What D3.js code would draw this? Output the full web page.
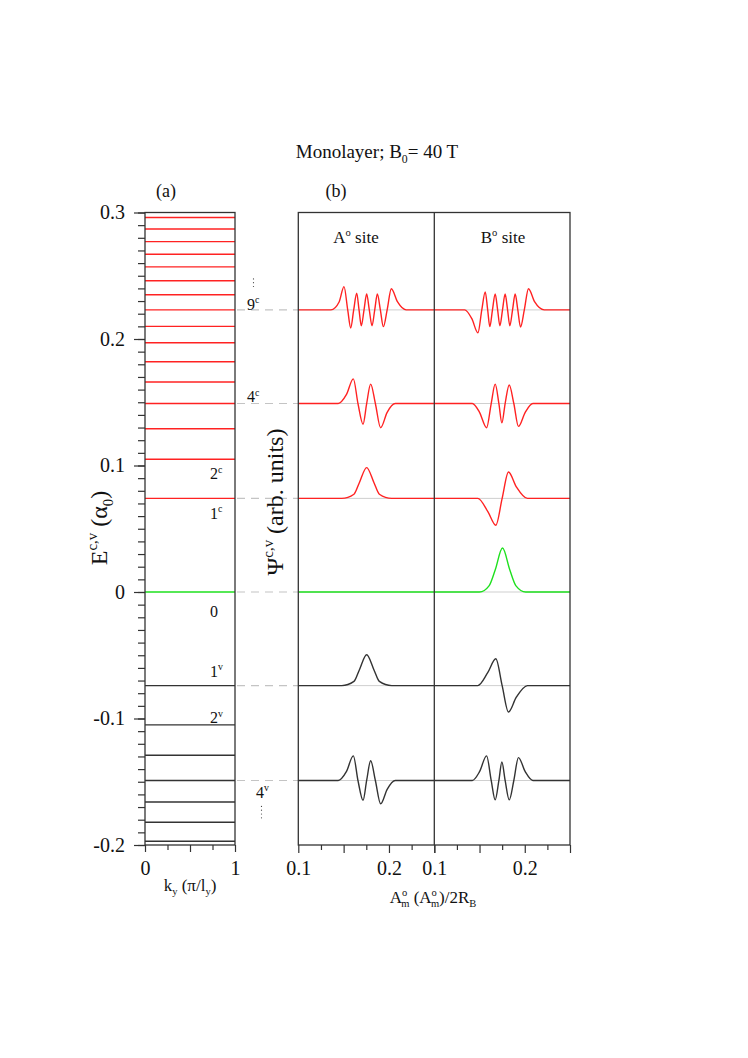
<!DOCTYPE html>
<html>
<head>
<meta charset="utf-8">
<script src="https://cdn.jsdelivr.net/npm/d3@7"></script>
<style>
  body { margin: 0; background: #fff; }
  text { font-family: "Liberation Serif", "Times New Roman", serif; fill: #111; }
</style>
</head>
<body>
<svg id="chart" width="748" height="1058"></svg>
<script>
// Energy levels (alpha_0) shown in panel (a)
let condLevels = [0.296, 0.287, 0.277, 0.267, 0.257, 0.246, 0.235, 0.223, 0.210, 0.197, 0.182, 0.166, 0.149, 0.129, 0.105, 0.074];
let zeroLevels = [0];
let valLevels = [-0.074, -0.105, -0.129, -0.149, -0.166, -0.182, -0.197];

// Tick values
let yMajor = [-0.2, -0.1, 0, 0.1, 0.2, 0.3];
let kMajor = [0, 0.5, 1];
let kMinor = [0.25, 0.75];
let kLabels = [0, 1];
let aMajor = [0.1, 0.15, 0.2, 0.25];
let aMinor = [0.125, 0.175, 0.225];
let aLabels = [0.1, 0.2];

// Levels whose wave functions are drawn in panel (b)
let waveNames = ["9c", "4c", "1c", "0", "1v", "4v"];
let waveLevels = [0.223, 0.149, 0.074, 0, -0.074, -0.149];

// Wave functions, [A_m/2R_B, psi (arb. units)]
let psiA_9c = [[0.10,0],[0.136,0],[0.145,0.18],[0.1504,0.53],[0.1545,0],[0.1578,-0.41],[0.1611,0],[0.1644,0.38],[0.1670,0],[0.1695,-0.36],[0.1725,0],[0.1754,0.36],[0.1783,0],[0.1813,-0.36],[0.1843,0],[0.1872,0.36],[0.1905,0],[0.1938,-0.38],[0.1980,0],[0.2026,0.48],[0.2095,0.18],[0.2190,0],[0.25,0]];
let psiB_9c = [[0.10,0],[0.1335,0],[0.1415,-0.2],[0.1482,-0.52],[0.1525,0],[0.1563,0.41],[0.1590,0],[0.1614,-0.38],[0.1643,0],[0.1673,0.36],[0.1700,0],[0.1725,-0.36],[0.1754,0],[0.1783,0.36],[0.1810,0],[0.1835,-0.36],[0.1865,0],[0.1894,0.36],[0.1923,0],[0.1953,-0.39],[0.1995,0],[0.2041,0.48],[0.2110,0.18],[0.2215,0],[0.25,0]];
let psiA_4c = [[0.10,0],[0.144,0],[0.153,0.2],[0.1607,0.56],[0.1658,0],[0.1714,-0.47],[0.1754,0],[0.1798,0.44],[0.1850,0],[0.1908,-0.55],[0.1980,-0.2],[0.2070,0],[0.25,0]];
let psiB_4c = [[0.10,0],[0.142,0],[0.150,-0.2],[0.1578,-0.55],[0.1629,0],[0.1673,0.44],[0.1714,0],[0.1747,-0.44],[0.1783,0],[0.1828,0.42],[0.1879,0],[0.1930,-0.52],[0.2005,-0.2],[0.2090,0],[0.25,0]];
let psiA_1c = [[0.10,0],[0.148,0],[0.1614,0.095],[0.1672,0.35],[0.1754,0.70],[0.1836,0.35],[0.1894,0.095],[0.203,0],[0.25,0]];
let psiB_1c = [[0.10,0],[0.148,0],[0.1592,-0.30],[0.1680,-0.61],[0.1750,0],[0.1820,0.60],[0.1905,0.27],[0.203,0],[0.25,0]];
let psiA_0 = [[0.10,0],[0.25,0]];
let psiB_0 = [[0.10,0],[0.150,0],[0.1605,0.14],[0.1673,0.5],[0.1754,1.0],[0.1835,0.5],[0.1903,0.14],[0.201,0],[0.25,0]];
let psiA_1v = [[0.10,0],[0.148,0],[0.1614,0.095],[0.1672,0.35],[0.1754,0.70],[0.1836,0.35],[0.1894,0.095],[0.203,0],[0.25,0]];
let psiB_1v = [[0.10,0],[0.148,0],[0.1592,0.30],[0.1680,0.61],[0.1750,0],[0.1820,-0.60],[0.1905,-0.27],[0.203,0],[0.25,0]];
let psiA_4v = [[0.10,0],[0.144,0],[0.153,0.2],[0.1607,0.56],[0.1658,0],[0.1714,-0.45],[0.1754,0],[0.1798,0.45],[0.1850,0],[0.1908,-0.53],[0.1980,-0.2],[0.2070,0],[0.25,0]];
let psiB_4v = [[0.10,0],[0.142,0],[0.150,0.2],[0.1578,0.56],[0.1629,0],[0.1673,-0.44],[0.1714,0],[0.1747,0.42],[0.1783,0],[0.1828,-0.44],[0.1879,0],[0.1930,0.52],[0.2005,0.2],[0.2090,0],[0.25,0]];

let psiA = [psiA_9c, psiA_4c, psiA_1c, psiA_0, psiA_1v, psiA_4v];
let psiB = [psiB_9c, psiB_4c, psiB_1c, psiB_0, psiB_1v, psiB_4v];

// Level labels: [number, band, energy of baseline]
let innerLabels = [["2","c",0.089],["1","c",0.058],["0","",-0.0195],["1","v",-0.067],["2","v",-0.1035]];
let sideLabels = [["9","c",0.2232],["4","c",0.150],["4","v",-0.1626]];

let colors = { c: "#ff2222", z: "#1ee01e", v: "#333333" };
function bandColor(name) {
    if (name.endsWith("c")) return colors.c;
    if (name.endsWith("v")) return colors.v;
    return colors.z;
}

let svg = d3.select("#chart");

// Scales
let yE = d3.scaleLinear().domain([-0.2, 0.3]).range([845, 212.5]);
let xK = d3.scaleLinear().domain([0, 1]).range([145, 235]);
let xA = d3.scaleLinear().domain([0.1, 0.25]).range([298.3, 434.3]);
let xB = d3.scaleLinear().domain([0.1, 0.25]).range([434.3, 570]);
let psiScale = d3.scaleLinear().domain([0, 1]).range([0, 44]);

// Writes text with super/subscripts
function richText(sel, parts, size) {
    let shift = 0;
    parts.forEach(p => {
        let target = p.sup ? -0.40 * size : (p.sub ? 0.24 * size : 0);
        sel.append("tspan")
            .attr("dy", target - shift)
            .attr("dx", p.dx || 0)
            .attr("font-size", (p.sup || p.sub) ? size * 0.62 : size)
            .text(p.t);
        shift = target;
    });
    return sel;
}

// Title
richText(svg.append("text").attr("x", 377).attr("y", 158).attr("text-anchor", "middle").attr("font-size", 19),
    [{t: "Monolayer; B"}, {t: "0", sub: true}, {t: "= 40 T"}], 19);

svg.append("text").attr("x", 166).attr("y", 197).attr("text-anchor", "middle").attr("font-size", 18).text("(a)");
svg.append("text").attr("x", 336).attr("y", 197).attr("text-anchor", "middle").attr("font-size", 18).text("(b)");

// ---------- Panel (a) ----------
let pa = svg.append("g");

function levelLines(levels, color) {
    pa.selectAll(null)
        .data(levels)
        .join("line")
        .attr("x1", xK(0))
        .attr("x2", xK(1))
        .attr("y1", d => yE(d))
        .attr("y2", d => yE(d))
        .attr("stroke", color)
        .attr("stroke-width", 1.4);
}
levelLines(condLevels, colors.c);
levelLines(zeroLevels, colors.z);
levelLines(valLevels, colors.v);

// y axis, major and minor ticks
pa.append("g")
    .attr("transform", `translate(${xK(0)},0)`)
    .call(d3.axisLeft(yE).tickValues(d3.range(-0.2, 0.3001, 0.01)).tickSize(7).tickFormat(""))
    .call(g => g.select(".domain").remove());
pa.append("g")
    .attr("transform", `translate(${xK(0)},0)`)
    .call(d3.axisLeft(yE).tickValues(yMajor).tickSize(11).tickPadding(9)
        .tickFormat(d => Math.abs(d) < 1e-9 ? "0" : d.toFixed(1)))
    .call(g => g.select(".domain").remove())
    .call(g => g.selectAll("text").attr("font-size", 20).attr("fill", "#111"));

// x axis of (a)
pa.append("g")
    .attr("transform", `translate(0,${yE(-0.2)})`)
    .call(d3.axisBottom(xK).tickValues(kMinor).tickSize(5).tickFormat(""))
    .call(g => g.select(".domain").remove());
pa.append("g")
    .attr("transform", `translate(0,${yE(-0.2)})`)
    .call(d3.axisBottom(xK).tickValues(kMajor).tickSize(7).tickPadding(9)
        .tickFormat(d => kLabels.includes(d) ? d : ""))
    .call(g => g.select(".domain").remove())
    .call(g => g.selectAll("text").attr("font-size", 20).attr("fill", "#111"));

pa.selectAll(".tick line").attr("stroke", "#333").attr("stroke-width", 1.2);

pa.append("rect")
    .attr("x", xK(0)).attr("y", yE(0.3))
    .attr("width", xK(1) - xK(0)).attr("height", yE(-0.2) - yE(0.3))
    .attr("fill", "none").attr("stroke", "#333").attr("stroke-width", 1.3);

// level labels inside (a)
innerLabels.forEach(l => {
    let t = pa.append("text").attr("x", 210).attr("y", yE(l[2])).attr("font-size", 16);
    richText(t, l[1] ? [{t: l[0]}, {t: l[1], sup: true}] : [{t: l[0]}], 16);
});

// axis titles of (a)
richText(svg.append("text")
    .attr("transform", "translate(107,528) rotate(-90)")
    .attr("text-anchor", "middle").attr("font-size", 24),
    [{t: "E"}, {t: "c,v", sup: true}, {t: " (α"}, {t: "0", sub: true}, {t: ")"}], 24);

richText(svg.append("text").attr("x", 190).attr("y", 891).attr("text-anchor", "middle").attr("font-size", 17),
    [{t: "k"}, {t: "y", sub: true}, {t: " (π/l"}, {t: "y", sub: true}, {t: ")"}], 17);

// ---------- dashed guides between the panels ----------
svg.append("g")
    .selectAll("line")
    .data(waveLevels)
    .join("line")
    .attr("x1", xK(1) + 2)
    .attr("x2", xA(0.1))
    .attr("y1", d => yE(d))
    .attr("y2", d => yE(d))
    .attr("stroke", "#c4c4c4")
    .attr("stroke-width", 1.1)
    .attr("stroke-dasharray", "8,6");

sideLabels.forEach(l => {
    let t = svg.append("text").attr("x", l[1] === "v" ? 256 : 247).attr("y", yE(l[2])).attr("font-size", 16);
    richText(t, [{t: l[0]}, {t: l[1], sup: true}], 16);
});
// vertical dots above 9c and below 4v
svg.append("g").selectAll("circle")
    .data([0.2475, 0.2445, 0.2415])
    .join("circle").attr("cx", 253.5).attr("cy", d => yE(d)).attr("r", 0.6).attr("fill", "#444");
svg.append("g").selectAll("circle")
    .data([-0.1695, -0.1725, -0.1755, -0.1785])
    .join("circle").attr("cx", 261.5).attr("cy", d => yE(d)).attr("r", 0.6).attr("fill", "#444");

richText(svg.append("text")
    .attr("transform", "translate(283,502) rotate(-90)")
    .attr("text-anchor", "middle").attr("font-size", 24),
    [{t: "Ψ"}, {t: "c,v", sup: true}, {t: " (arb. units)"}], 24);

// ---------- Panel (b) ----------
let pb = svg.append("g");

// grey baselines
pb.selectAll(null)
    .data(waveLevels)
    .join("line")
    .attr("x1", xA(0.1)).attr("x2", xB(0.25))
    .attr("y1", d => yE(d)).attr("y2", d => yE(d))
    .attr("stroke", "#cfcfcf").attr("stroke-width", 1);

function drawWaves(series, xs) {
    series.forEach((pts, i) => {
        let base = yE(waveLevels[i]);
        let line = d3.line()
            .x(d => xs(d[0]))
            .y(d => base - psiScale(d[1]))
            .curve(d3.curveMonotoneX);
        pb.append("path")
            .datum(pts)
            .attr("d", line)
            .attr("fill", "none")
            .attr("stroke", bandColor(waveNames[i]))
            .attr("stroke-width", 1.4);
    });
}
drawWaves(psiA, xA);
drawWaves(psiB, xB);

// x axes of (b)
[xA, xB].forEach(xs => {
    pb.append("g")
        .attr("transform", `translate(0,${yE(-0.2)})`)
        .call(d3.axisBottom(xs).tickValues(aMinor).tickSize(5).tickFormat(""))
        .call(g => g.select(".domain").remove());
    pb.append("g")
        .attr("transform", `translate(0,${yE(-0.2)})`)
        .call(d3.axisBottom(xs).tickValues(aMajor).tickSize(8).tickPadding(8)
            .tickFormat(d => aLabels.some(v => Math.abs(v - d) < 1e-9) ? d3.format(".1f")(d) : ""))
        .call(g => g.select(".domain").remove())
        .call(g => g.selectAll("text").attr("font-size", 20).attr("fill", "#111"));
});
pb.selectAll(".tick line").attr("stroke", "#333").attr("stroke-width", 1.2);

pb.append("rect")
    .attr("x", xA(0.1)).attr("y", yE(0.3))
    .attr("width", xB(0.25) - xA(0.1)).attr("height", yE(-0.2) - yE(0.3))
    .attr("fill", "none").attr("stroke", "#333").attr("stroke-width", 1.3);
pb.append("line")
    .attr("x1", xB(0.1)).attr("x2", xB(0.1))
    .attr("y1", yE(0.3)).attr("y2", yE(-0.2))
    .attr("stroke", "#333").attr("stroke-width", 1.3);

richText(pb.append("text").attr("x", 356).attr("y", 243).attr("text-anchor", "middle").attr("font-size", 17),
    [{t: "A"}, {t: "o", sup: true}, {t: " site"}], 17);
richText(pb.append("text").attr("x", 503).attr("y", 243).attr("text-anchor", "middle").attr("font-size", 17),
    [{t: "B"}, {t: "o", sup: true}, {t: " site"}], 17);

richText(pb.append("text").attr("x", 433).attr("y", 903).attr("text-anchor", "middle").attr("font-size", 17),
    [{t: "A"}, {t: "o", sup: true}, {t: "m", sub: true, dx: -6}, {t: " (A"}, {t: "o", sup: true}, {t: "m", sub: true, dx: -6},
     {t: ")/2R"}, {t: "B", sub: true}], 17);
</script>
</body>
</html>
